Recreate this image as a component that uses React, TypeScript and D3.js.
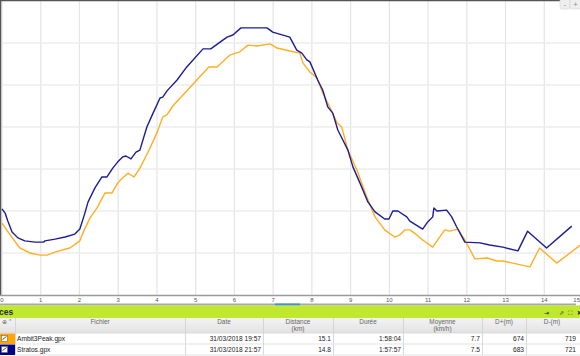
import React from "react";
import * as d3 from "d3";

const ambitKm = [0, 0.21, 0.46, 0.72, 0.98, 1.16, 1.37, 1.75, 2.01, 2.09, 2.27, 2.45, 2.66, 2.84, 2.99, 3.12, 3.25, 3.41, 3.56, 3.77, 4.0, 4.15, 4.26, 4.41, 4.72, 5.03, 5.34, 5.55, 5.88, 6.14, 6.35, 6.58, 6.92, 7.1, 7.43, 7.69, 7.77, 7.95, 8.13, 8.28, 8.46, 8.65, 8.77, 8.93, 9.16, 9.42, 9.63, 9.88, 10.14, 10.27, 10.4, 10.53, 10.71, 10.86, 11.12, 11.43, 11.56, 11.77, 11.95, 12.21, 12.52, 12.77, 12.93, 13.63, 13.88, 14.32, 14.95];
const ambitEle = [171, 143, 112, 100, 95, 95, 102, 112, 129, 148, 183, 207, 243, 243, 267, 279, 290, 281, 302, 340, 386, 424, 429, 450, 481, 512, 543, 543, 571, 579, 595, 593, 598, 588, 581, 576, 552, 531, 517, 481, 448, 410, 400, 345, 298, 233, 186, 155, 138, 143, 155, 155, 143, 131, 114, 155, 152, 157, 131, 86, 88, 81, 81, 67, 112, 76, 120];

const stratosKm = [0, 0.08, 0.15, 0.26, 0.41, 0.59, 0.85, 1.08, 1.11, 1.37, 1.63, 1.88, 2.01, 2.14, 2.22, 2.4, 2.58, 2.71, 2.86, 2.99, 3.12, 3.2, 3.33, 3.46, 3.56, 3.74, 3.9, 4.08, 4.15, 4.26, 4.52, 4.77, 5.19, 5.39, 5.63, 5.81, 5.96, 6.17, 6.84, 6.99, 7.43, 7.61, 7.74, 7.87, 7.95, 8.15, 8.28, 8.41, 8.54, 8.67, 8.8, 8.93, 9.06, 9.24, 9.45, 9.63, 9.88, 9.99, 10.09, 10.22, 10.45, 10.53, 10.86, 10.99, 11.12, 11.15, 11.23, 11.48, 11.61, 11.74, 11.95, 12.34, 12.59, 12.93, 13.32, 13.57, 14.06, 14.71];
const stratosEle = [205, 195, 176, 150, 136, 129, 126, 126, 129, 133, 138, 145, 157, 195, 221, 255, 281, 281, 302, 317, 329, 331, 324, 340, 345, 400, 433, 469, 471, 486, 512, 543, 586, 586, 602, 614, 619, 636, 636, 626, 614, 583, 576, 560, 555, 512, 488, 448, 433, 393, 369, 345, 305, 267, 221, 198, 181, 181, 200, 200, 186, 176, 157, 174, 186, 207, 200, 202, 186, 162, 126, 124, 119, 114, 105, 152, 112, 164];

const xTicks = [0, 1, 2, 3, 4, 5, 6, 7, 8, 9, 10, 11, 12, 13, 14, 15];
const yGrid = [100, 200, 300, 400, 500, 600];

const columns = ["", "Fichier", "Date", "Distance|(km)", "Durée", "Moyenne|(km/h)", "D+(m)", "D-(m)"];
const fileNames = ["Ambit3Peak.gpx", "Stratos.gpx"];
const fileColors = ["#ffa500", "#00008b"];
const dates = ["31/03/2018 19:57", "31/03/2018 21:57"];
const distances = ["15.1", "14.8"];
const durations = ["1:58:04", "1:57:57"];
const speeds = ["7.7", "7.5"];
const dPlus = ["674", "683"];
const dMinus = ["719", "721"];

const colEdges = [0, 15, 185, 263, 333, 403, 482, 526, 578];

export default function App() {
  const W = 580, H = 356;
  const x = d3.scaleLinear().domain([0, 15]).range([2, 583]);
  const y = d3.scaleLinear().domain([0, 700]).range([295, 1]);
  const line = d3.line<[number, number]>().x(d => x(d[0])).y(d => y(d[1])).curve(d3.curveLinear);
  const ambit = ambitKm.map((k, i) => [k, ambitEle[i]] as [number, number]);
  const stratos = stratosKm.map((k, i) => [k, stratosEle[i]] as [number, number]);
  const font = "Liberation Sans, Arial, sans-serif";
  const rowVals = [fileNames, dates, distances, durations, speeds, dPlus, dMinus];

  return (
    <svg width={W} height={H} style={{ position: "absolute", left: 0, top: 0, background: "#fff" }} fontFamily={font}>
      <defs>
        <clipPath id="plot"><rect x={1} y={1} width={579} height={294} /></clipPath>
        <linearGradient id="hdr" x1="0" y1="0" x2="0" y2="1">
          <stop offset="0" stopColor="#f4f4f4" />
          <stop offset="1" stopColor="#e2e2e2" />
        </linearGradient>
      </defs>
      <rect x={0} y={0} width={W} height={H} fill="#fff" />
      {xTicks.map(t => (
        <line key={"gx" + t} x1={x(t)} x2={x(t)} y1={1} y2={295} stroke="#e4e4e4" strokeWidth={1.2} />
      ))}
      {yGrid.map(t => (
        <line key={"gy" + t} x1={0} x2={580} y1={y(t)} y2={y(t)} stroke="#ececec" strokeWidth={1.5} />
      ))}
      <line x1={0} x2={560} y1={0.5} y2={0.5} stroke="#555" strokeWidth={1.5} />
      <line x1={0.5} x2={0.5} y1={0} y2={295} stroke="#555" strokeWidth={1.5} />
      <rect x={560} y={-2} width={10} height={11} rx={2} fill="#eee" stroke="#d4d4d4" strokeWidth={0.6} />
      <rect x={570} y={-2} width={11} height={11} rx={2} fill="#eee" stroke="#d4d4d4" strokeWidth={0.6} />
      <text x={565} y={7} fontSize={7} fill="#888" textAnchor="middle">-</text>
      <text x={575.5} y={7} fontSize={7} fill="#888" textAnchor="middle">+</text>
      <g clipPath="url(#plot)">
        <path d={line(ambit) || ""} fill="none" stroke="#ffae22" strokeWidth={1.4} strokeLinejoin="round" />
        <path d={line(stratos) || ""} fill="none" stroke="#1c1c96" strokeWidth={1.4} strokeLinejoin="round" />
      </g>
      <line x1={0} x2={580} y1={295.5} y2={295.5} stroke="#9a9a9a" strokeWidth={1.6} />
      {xTicks.map((t, i) => {
        const last = i === xTicks.length - 1;
        return (
          <text key={"tx" + t} x={last ? 580 : x(t)} y={302} fontSize={6} fill="#555" textAnchor={last ? "end" : "middle"}>{t}</text>
        );
      })}
      <rect x={0} y={303.5} width={576} height={2} fill="#a8a8a8" />
      <rect x={275} y={303.5} width={25} height={2} fill="#3d8fe0" />
      <rect x={0} y={305.5} width={580} height={12.5} fill="#c0e82e" />
      <text x={-1} y={315} fontSize={8.5} fontWeight="bold" fill="#2a2a2a">ces</text>
      <text x={546} y={314.5} fontSize={6} fill="#333" textAnchor="middle">⇥</text>
      <text x={561} y={314.5} fontSize={6} fill="#333" textAnchor="middle">⇗</text>
      <text x={570} y={314.5} fontSize={6} fill="#333" textAnchor="middle">⛶</text>
      <text x={579} y={314.5} fontSize={6} fill="#333" textAnchor="middle">✖</text>
      <rect x={0} y={318} width={580} height={15} fill="url(#hdr)" />
      {colEdges.slice(1, -1).map(e => (
        <line key={"ce" + e} x1={e + 0.5} x2={e + 0.5} y1={318} y2={355} stroke="#cfcfcf" strokeWidth={0.8} />
      ))}
      <text x={2} y={324} fontSize={6} fill="#666">⊕</text>
      <text x={9} y={323} fontSize={5} fill="#666">^</text>
      {columns.map((c, i) => {
        if (!c) return null;
        const cx = (colEdges[i] + colEdges[i + 1]) / 2;
        const parts = c.split("|");
        return parts.map((p, j) => (
          <text key={"h" + i + j} x={cx} y={324 + j * 7} fontSize={6.4} fill="#666" textAnchor="middle">{p}</text>
        ));
      })}
      <line x1={0} x2={580} y1={333} y2={333} stroke="#d4d4d4" strokeWidth={0.8} />
      {fileNames.map((_, r) => {
        const top = 333 + r * 11;
        return (
          <g key={"r" + r}>
            <rect x={0} y={top + 0.5} width={15} height={10.5} fill={fileColors[r]} />
            <rect x={1.5} y={top + 2.5} width={6} height={6} fill="#fff" stroke="#666" strokeWidth={0.6} />
            <path d={`M2.5,${top + 6.5} L6.5,${top + 3.5}`} stroke="#222" strokeWidth={0.8} />
            {rowVals.map((vals, ci) => {
              const col = ci + 1;
              const isLeft = ci === 0;
              return (
                <text key={"c" + ci} x={isLeft ? colEdges[col] + 2 : colEdges[col + 1] - 2} y={top + 7.8} fontSize={6.6} fill="#222" textAnchor={isLeft ? "start" : "end"}>{vals[r]}</text>
              );
            })}
            <line x1={15} x2={580} y1={top + 11} y2={top + 11} stroke="#dcdcdc" strokeWidth={0.8} />
          </g>
        );
      })}
    </svg>
  );
}
